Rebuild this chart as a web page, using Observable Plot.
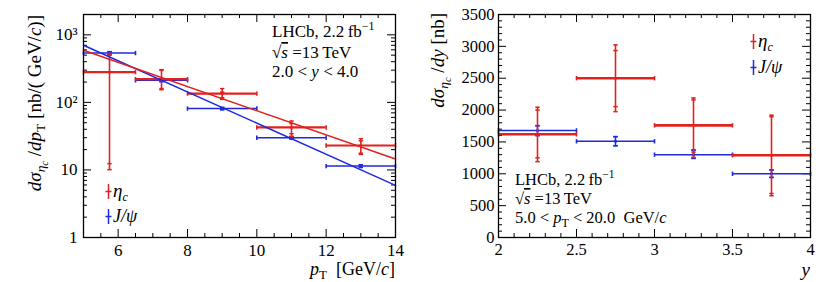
<!DOCTYPE html>
<html><head><meta charset="utf-8">
<script src="https://cdn.jsdelivr.net/npm/d3@7"></script>
<script src="https://cdn.jsdelivr.net/npm/@observablehq/plot@0.6"></script>
<style>
body{margin:0;background:#fff;}
#wrap{display:flex;width:831px;height:282px;background:#fff;}
#wrap svg{display:block;flex:none;}
#wrap svg text{font-family:"Liberation Serif","Times New Roman",Times,"DejaVu Serif",serif;}
</style></head><body><div id="wrap"></div>
<script>
// ---------- Left panel: d sigma / d pT ----------
const ptLo = [5, 6.5, 8, 10, 12];
const ptHi = [6.5, 8, 10, 12, 14];
const ptMid = [5.75, 7.25, 9, 11, 13];
const etaPt = [281, 221, 135, 42.6, 23];
const etaPtTotLo = [10.1, 154, 111, 31, 17];
const etaPtTotHi = [530, 305, 160, 53, 29];
const etaPtStatLo = [12.4, 160, 117, 34.4, 17.7];
const etaPtStatHi = [500, 298, 142, 48.6, 27];
const jpsiPt = [537, 212, 81, 30, 11.4];
const jpsiPtLo = [512, 203, 78, 28.8, 10.9];
const jpsiPtHi = [563, 221, 84, 31.2, 11.9];
const fitPt = [5, 14];
const fitEtaPt = [590, 14.5];
const fitJpsiPt = [700, 5.9];
const ptTicks = [6, 8, 10, 12, 14];
const ptTickLabels = ["6", "8", "10", "12", "14"];
const logTicks = [1, 10, 100, 1000];
const logTickLabels = ["1", "10", "10\u00b2", "10\u00b3"];

// ---------- Right panel: d sigma / dy ----------
const yLo = [2, 2.5, 3, 3.5];
const yHi = [2.5, 3, 3.5, 4];
const yMid = [2.25, 2.75, 3.25, 3.75];
const etaY = [1620, 2500, 1760, 1290];
const etaYTotLo = [1190, 1975, 1257, 655];
const etaYTotHi = [2044, 3023, 2190, 1920];
const etaYStatLo = [1250, 2054, 1340, 690];
const etaYStatHi = [2000, 2934, 2160, 1895];
const jpsiY = [1680, 1510, 1300, 1000];
const jpsiYLo = [1600, 1440, 1242, 943];
const jpsiYHi = [1755, 1583, 1373, 1059];
const rapTicks = [2, 2.5, 3, 3.5, 4];
const rapTickLabels = ["2", "2.5", "3", "3.5", "4"];
const dyTicks = [0, 500, 1000, 1500, 2000, 2500, 3000, 3500];
const dyTickLabels = ["0", "500", "1000", "1500", "2000", "2500", "3000", "3500"];

const RED = "#e0221f", BLUE = "#1f2ade";
const FONT = '"Liberation Serif", "Times New Roman", Times, "DejaVu Serif", serif';

const vbar = {draw(ctx, size) { const r = Math.sqrt(size / Math.PI); ctx.moveTo(0, -r); ctx.lineTo(0, r); }};
const hbar = {draw(ctx, size) { const r = Math.sqrt(size / Math.PI); ctx.moveTo(-r, 0); ctx.lineTo(r, 0); }};

function rows(mid, lo, hi, v, tlo, thi, slo, shi) {
  return mid.map((m, i) => ({mid: m, lo: lo[i], hi: hi[i], v: v[i], tlo: tlo[i], thi: thi[i],
    slo: slo ? slo[i] : tlo[i], shi: shi ? shi[i] : thi[i]}));
}

function errMarks(data, color, wH, wV) {
  return [
    Plot.ruleY(data, {y: "v", x1: "lo", x2: "hi", stroke: color, strokeWidth: wH}),
    Plot.dot(data, {x: "lo", y: "v", symbol: vbar, r: 2.2, stroke: color, strokeWidth: 1.6}),
    Plot.dot(data, {x: "hi", y: "v", symbol: vbar, r: 2.2, stroke: color, strokeWidth: 1.6}),
    Plot.ruleX(data, {x: "mid", y1: "tlo", y2: "thi", stroke: color, strokeWidth: wV}),
    Plot.dot(data, {x: "mid", y: "tlo", symbol: hbar, r: 2.2, stroke: color, strokeWidth: 1.5}),
    Plot.dot(data, {x: "mid", y: "thi", symbol: hbar, r: 2.2, stroke: color, strokeWidth: 1.5}),
    Plot.dot(data, {x: "mid", y: "slo", symbol: hbar, r: 2.2, stroke: color, strokeWidth: 1.5}),
    Plot.dot(data, {x: "mid", y: "shi", symbol: hbar, r: 2.2, stroke: color, strokeWidth: 1.5}),
    Plot.dot(data, {x: "mid", y: "v", symbol: "square", r: 1.4, fill: color})
  ];
}

function frameTicks(xMaj, xMin, yMaj, yMin, iw, ih) {
  const majL = 8, minL = 4, s = {stroke: "black", strokeWidth: 1};
  return [
    Plot.tickX(xMaj, {x: d => d, insetTop: ih - majL, ...s}),
    Plot.tickX(xMaj, {x: d => d, insetBottom: ih - majL, ...s}),
    Plot.tickX(xMin, {x: d => d, insetTop: ih - minL, ...s}),
    Plot.tickX(xMin, {x: d => d, insetBottom: ih - minL, ...s}),
    Plot.tickY(yMaj, {y: d => d, insetRight: iw - majL, ...s}),
    Plot.tickY(yMaj, {y: d => d, insetLeft: iw - majL, ...s}),
    Plot.tickY(yMin, {y: d => d, insetRight: iw - minL, ...s}),
    Plot.tickY(yMin, {y: d => d, insetLeft: iw - minL, ...s})
  ];
}

function legendMarks(color, dx, dy) {
  return [
    Plot.dot([0], {frameAnchor: "top-left", dx, dy, symbol: vbar, r: 7.5, stroke: color, strokeWidth: 1.5}),
    Plot.dot([0], {frameAnchor: "top-left", dx, dy, symbol: hbar, r: 3, stroke: color, strokeWidth: 1.5})
  ];
}

// rich text with sub/superscripts: parts {t, i, s: shift px (down +), fs}
function rich(svg, x, y, parts, o = {}) {
  const size = o.size || 16;
  const t = d3.select(svg).append("text").attr("x", x).attr("y", y)
    .attr("font-size", size).attr("text-anchor", o.anchor || "start").attr("fill", "black")
    .style("font-family", FONT);
  if (o.rotate) t.attr("transform", `rotate(${o.rotate},${x},${y})`);
  let prev = 0;
  for (const p of parts) {
    const s = p.s || 0;
    const sp = t.append("tspan").text(p.t).attr("font-size", p.fs || size);
    if (s !== prev) sp.attr("dy", s - prev);
    prev = s;
    if (p.i) sp.attr("font-style", "italic");
    if (p.o) sp.attr("text-decoration", "overline");
  }
}

// ---------- Left chart ----------
const W1 = 415, H = 282, mL = 83, mR1 = 20, mT = 14, mB = 45;
const iw1 = W1 - mL - mR1, ih = H - mT - mB;
const ptMinor = d3.range(5, 14.001, 0.5).filter(d => !ptTicks.includes(d));
const logMinor = [2,3,4,5,6,7,8,9,20,30,40,50,60,70,80,90,200,300,400,500,600,700,800,900,2000];
const labelMap = (ks, ls) => new Map(ks.map((k, i) => [k, ls[i]]));
const ptMap = labelMap(ptTicks, ptTickLabels), logMap = labelMap(logTicks, logTickLabels);

const etaRowsPt = rows(ptMid, ptLo, ptHi, etaPt, etaPtTotLo, etaPtTotHi, etaPtStatLo, etaPtStatHi);
const jpsiRowsPt = rows(ptMid, ptLo, ptHi, jpsiPt, jpsiPtLo, jpsiPtHi);
const fitRows = fitPt.map((x, i) => ({x, eta: fitEtaPt[i], jpsi: fitJpsiPt[i]}));

const left = Plot.plot({
  width: W1, height: H, marginLeft: mL, marginRight: mR1, marginTop: mT, marginBottom: mB,
  style: {fontFamily: FONT, fontSize: "17px", color: "black", background: "white"},
  x: {domain: [5, 14]},
  y: {type: "log", domain: [1, 2000]},
  marks: [
    Plot.axisX(ptTicks, {tickSize: 0, tickPadding: 6, tickFormat: d => ptMap.get(d), label: null, fontSize: 17}),
    Plot.axisY(logTicks, {tickSize: 0, tickPadding: 6, tickFormat: d => logMap.get(d), label: null, fontSize: 17}),
    ...frameTicks(ptTicks, ptMinor, logTicks, logMinor, iw1, ih),
    ...errMarks(jpsiRowsPt, BLUE, 1.5, 1.5),
    ...errMarks(etaRowsPt, RED, 2.2, 1.6),
    Plot.line(fitRows, {x: "x", y: "jpsi", stroke: BLUE, strokeWidth: 1.5}),
    Plot.line(fitRows, {x: "x", y: "eta", stroke: RED, strokeWidth: 1.5}),
    ...legendMarks(RED, 25, 177),
    ...legendMarks(BLUE, 25, 202),
    Plot.frame({stroke: "black", strokeWidth: 1.3})
  ]
});

// ---------- Right chart ----------
const W2 = 416, mR2 = 21;
const iw2 = W2 - mL - mR2;
const rapMinor = d3.range(2, 4.001, 0.1).map(d => Math.round(d * 10) / 10).filter(d => !rapTicks.includes(d));
const dyMinor = d3.range(0, 3501, 100).filter(d => d % 500 !== 0);
const rapMap = labelMap(rapTicks, rapTickLabels), dyMap = labelMap(dyTicks, dyTickLabels);
const etaRowsY = rows(yMid, yLo, yHi, etaY, etaYTotLo, etaYTotHi, etaYStatLo, etaYStatHi);
const jpsiRowsY = rows(yMid, yLo, yHi, jpsiY, jpsiYLo, jpsiYHi);

const right = Plot.plot({
  width: W2, height: H, marginLeft: mL, marginRight: mR2, marginTop: mT, marginBottom: mB,
  style: {fontFamily: FONT, fontSize: "16.5px", color: "black", background: "white"},
  x: {domain: [2, 4]},
  y: {domain: [0, 3500]},
  marks: [
    Plot.axisX(rapTicks, {tickSize: 0, tickPadding: 6, tickFormat: d => rapMap.get(d), label: null, fontSize: 16.5}),
    Plot.axisY(dyTicks, {tickSize: 0, tickPadding: 4, tickFormat: d => dyMap.get(d), label: null, fontSize: 16.5}),
    ...frameTicks(rapTicks, rapMinor, dyTicks, dyMinor, iw2, ih),
    ...errMarks(jpsiRowsY, BLUE, 1.5, 1.5),
    ...errMarks(etaRowsY, RED, 2.6, 1.6),
    ...legendMarks(RED, 255, 27),
    ...legendMarks(BLUE, 255, 53),
    Plot.frame({stroke: "black", strokeWidth: 1.3})
  ]
});

const wrap = document.getElementById("wrap");
wrap.append(left, right);

// ---------- Text (labels, annotations, legends) ----------
const SUB = 4, SUB2 = 7;
rich(left, 41, 15, [
  {t: "d", i: 1}, {t: "\u03c3", i: 1}, {t: "\u03b7", i: 1, s: SUB, fs: 13.5}, {t: "c", i: 1, s: SUB2, fs: 10.5},
  {t: " /", s: 0}, {t: "dp", i: 1}, {t: "T", s: SUB, fs: 13.5}, {t: " [nb/( GeV/", s: 0}, {t: "c", i: 1}, {t: ")]"}
], {anchor: "end", rotate: -90, size: 19});
rich(left, 395, 275, [
  {t: "p", i: 1}, {t: "T", s: SUB, fs: 13}, {t: "  [GeV/", s: 0}, {t: "c", i: 1}, {t: "]"}
], {anchor: "end", size: 18});
rich(left, 272, 37, [{t: "LHCb, 2.2\u2009fb"}, {t: "\u22121", s: -7, fs: 12}], {size: 17});
rich(left, 272, 58, [{t: "\u221a"}, {t: "s", i: 1, o: 1}, {t: " =13\u2009TeV"}], {size: 17});
rich(left, 272, 77, [{t: "2.0 < "}, {t: "y", i: 1}, {t: " < 4.0"}], {size: 17});
rich(left, 113, 197, [{t: "\u03b7", i: 1}, {t: "c", i: 1, s: SUB, fs: 12}], {size: 19});
rich(left, 113, 222, [{t: "J/\u03c8", i: 1}], {size: 18});

rich(right, 29, 13, [
  {t: "d", i: 1}, {t: "\u03c3", i: 1}, {t: "\u03b7", i: 1, s: SUB, fs: 13.5}, {t: "c", i: 1, s: SUB2, fs: 10.5},
  {t: " /", s: 0}, {t: "dy", i: 1}, {t: " [nb]"}
], {anchor: "end", rotate: -90, size: 19});
rich(right, 395, 276, [{t: "y", i: 1}], {anchor: "end", size: 19});
rich(right, 100, 185, [{t: "LHCb, 2.2\u2009fb"}, {t: "\u22121", s: -7, fs: 11.5}], {size: 16.5});
rich(right, 100, 204, [{t: "\u221a"}, {t: "s", i: 1, o: 1}, {t: " =13\u2009TeV"}], {size: 16.5});
rich(right, 100, 223, [{t: "5.0 < "}, {t: "p", i: 1}, {t: "T", s: SUB, fs: 12}, {t: " < 20.0  GeV/", s: 0}, {t: "c", i: 1}], {size: 16.5});
rich(right, 343, 47, [{t: "\u03b7", i: 1}, {t: "c", i: 1, s: SUB, fs: 12}], {size: 19});
rich(right, 343, 73, [{t: "J/\u03c8", i: 1}], {size: 18});
</script></body></html>
